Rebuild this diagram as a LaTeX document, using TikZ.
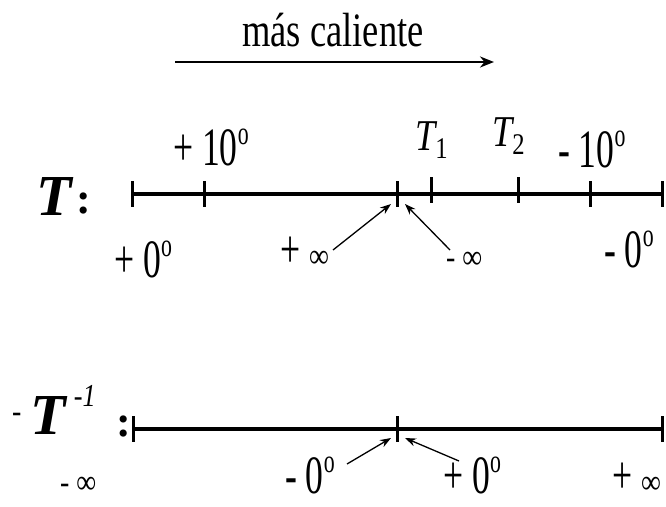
\documentclass[tikz,border=0pt]{standalone}
\usepackage{fontspec}
\setmainfont{Liberation Serif}
\newfontfamily\cnd[FakeStretch=0.66]{Liberation Serif}
\newfontfamily\ttl[FakeStretch=0.76]{Liberation Serif}
\newfontfamily\midf[FakeStretch=0.82]{Liberation Serif}
\usetikzlibrary{arrows.meta}
\newcommand\dg{\raisebox{21pt}{\fontsize{33}{33}\selectfont o}}
\newcommand\sml{\midf\fontsize{34}{34}\selectfont}
\begin{document}
\begin{tikzpicture}[x=1pt,y=-1pt,
  axis/.style={line width=3.6pt},
  tk/.style={line width=3pt},
  ptr/.style={line width=1.3pt,-{Stealth[length=11pt,width=8pt]}},
  lbl/.style={inner sep=0pt,anchor=base west,font=\cnd\fontsize{54}{54}\selectfont},
  big/.style={inner sep=0pt,anchor=base west,font=\fontsize{58}{58}\selectfont\bfseries\itshape},
  colon/.style={inner sep=0pt,anchor=base west,font=\fontsize{44}{44}\selectfont\bfseries}
]
\useasboundingbox (0,0) rectangle (666,506);
% title
\node[inner sep=0pt,anchor=base,font=\ttl\fontsize{48}{48}\selectfont] (title) at (333,46) {más caliente};
\coordinate (ha) at (175,62);
\coordinate (hb) at (494,62);
\draw[line width=2.2pt,-{Stealth[length=14pt,width=11pt]}] (ha) -- (hb);

% T axis
\node[big] (Tl) at (36,215) {T};
\node[colon] (Tc) at (76,213) {:};
\coordinate (a0) at (132,194);
\coordinate (a6) at (662,194);
\draw[axis] (a0) -- (a6);
\foreach \x/\n in {132/t0,204/t1,397/t2,590/t5,662/t6}{
  \coordinate (\n u) at (\x,181); \coordinate (\n d) at (\x,207);
  \draw[tk] (\n u) -- (\n d);}
\foreach \x/\n in {431/t3,518/t4}{
  \coordinate (\n u) at (\x,177); \coordinate (\n d) at (\x,203);
  \draw[tk] (\n u) -- (\n d);}

\node[lbl] (p10) at (173,165) {+ 10\dg};
\node[lbl] (m10) at (558,167) {- 10\dg};
\node[inner sep=0pt,anchor=base west,font=\midf\fontsize{44}{44}\selectfont\itshape] (T1) at (415,150) {T\raisebox{-8pt}{\upshape\fontsize{30}{30}\selectfont 1}};
\node[inner sep=0pt,anchor=base west,font=\midf\fontsize{44}{44}\selectfont\itshape] (T2) at (492,146) {T\raisebox{-8pt}{\upshape\fontsize{30}{30}\selectfont 2}};
\node[lbl] (p0) at (114,277) {+ 0\dg};
\node[lbl] (m0) at (604,267) {- 0\dg};
\node[lbl] (pinf) at (280,267) {+ {\sml ∞}};
\node[lbl] (minf) at (446,268) {{\sml - ∞}};
\coordinate (c1) at (333,250);
\coordinate (c2) at (450,250);
\coordinate (e1) at (391,204);
\coordinate (e2) at (405,204);
\draw[ptr] (c1) -- (e1);
\draw[ptr] (c2) -- (e2);

% -T^-1 axis
\node[inner sep=0pt,anchor=base west] (Tinv) at (12,434)
  {\raisebox{12pt}{\sml -}\hspace{9pt}{\fontsize{58}{58}\selectfont\bfseries\itshape T}\hspace{8pt}\raisebox{28pt}{\midf\fontsize{32}{32}\selectfont -\itshape 1}};
\node[colon] (Tic) at (116,436) {:};
\coordinate (b0) at (133,429);
\coordinate (b2) at (662,429);
\draw[axis] (b0) -- (b2);
\foreach \x/\n in {133/s0,397/s1,662/s2}{
  \coordinate (\n u) at (\x,416); \coordinate (\n d) at (\x,442);
  \draw[tk] (\n u) -- (\n d);}
\node[lbl] (bminf) at (60,493) {{\sml - ∞}};
\node[lbl] (bm0) at (285,493) {- 0\dg};
\node[lbl] (bp0) at (443,493) {+ 0\dg};
\node[lbl] (bpinf) at (612,493) {+ {\sml ∞}};
\coordinate (d1) at (347,464);
\coordinate (d2) at (459,461);
\coordinate (f1) at (391,438);
\coordinate (f2) at (405,438);
\draw[ptr] (d1) -- (f1);
\draw[ptr] (d2) -- (f2);
\end{tikzpicture}
\end{document}
